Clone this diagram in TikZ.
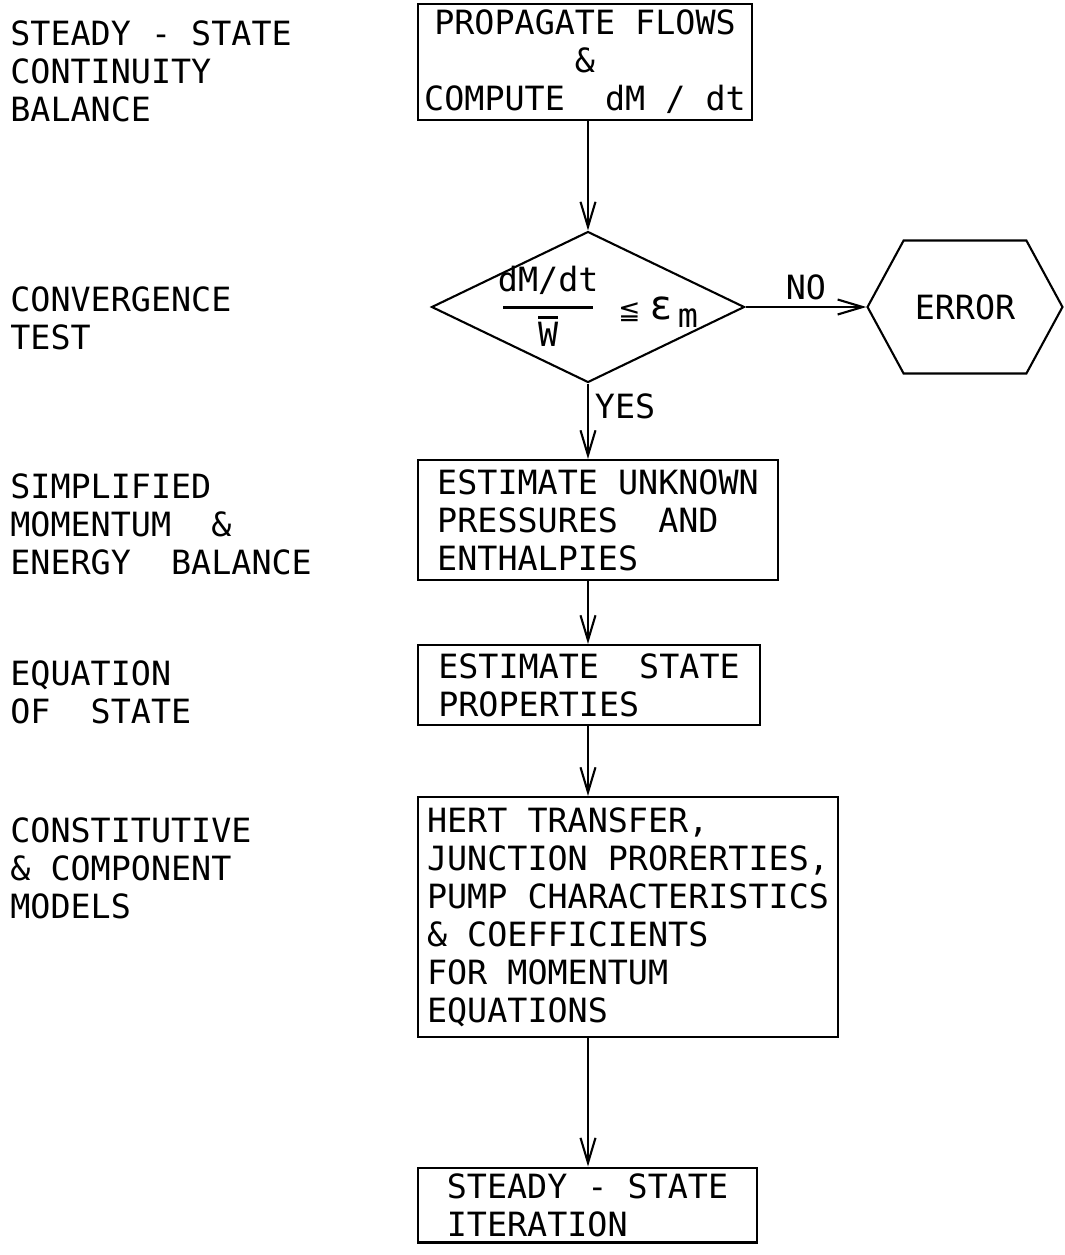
\documentclass[tikz,border=0pt]{standalone}
\usepackage{fontspec}
\setmonofont{DejaVu Sans Mono}
\newfontfamily\symfont{DejaVu Sans}
\usetikzlibrary{arrows.meta,shapes.geometric,shapes.symbols}
\newcommand{\plotfont}{\ttfamily\fontsize{19}{21.6}\selectfont}
\newcommand{\barW}{\setbox0\hbox{\plotfont W}\vbox{\hrule width\wd0 height 1.2pt\kern2pt\box0}}
\newcommand{\topDM}{\setbox0\hbox{\plotfont dM/dt}\box0}
\tikzstyle{block}=[draw, line width=1.2pt, inner xsep=0.1cm, align=left]
\tikzstyle{decision}=[diamond, draw, line width=1.2pt, aspect=2.07, inner sep=0pt,
    minimum width=6.26cm, minimum height=3.02cm]
\tikzstyle{hexa}=[signal, signal to=west and east, signal pointer angle=123, draw,
    line width=1.2pt, minimum width=3.9cm, minimum height=2.66cm]
\tikzstyle{side}=[anchor=north west, inner sep=0pt, align=left]
\tikzstyle{flow}=[line width=1.2pt, -{Straight Barb[length=5mm,width=3mm]}]
\newcommand{\block}{\node[block]}

\begin{document}
\begin{tikzpicture}[x=0.02cm, y=-0.02cm, every node/.style={font=\plotfont}]
\useasboundingbox (0,0) rectangle (1065,1255);
% what each step stands for
\node[side] (l1) at (10,20)  {STEADY - STATE\\CONTINUITY\\BALANCE};
\node[side] (l2) at (10,286) {CONVERGENCE\\TEST};
\node[side] (l3) at (10,473) {SIMPLIFIED\\MOMENTUM~~\&\\ENERGY~~BALANCE};
\node[side] (l4) at (10,660) {EQUATION\\OF~~STATE};
\node[side] (l5) at (10,817) {CONSTITUTIVE\\\& COMPONENT\\MODELS};
% the steps
\block[align=center, minimum width=6.68cm, minimum height=2.32cm] (prop) at (585,62)
    {PROPAGATE FLOWS\\\&\\COMPUTE~~dM / dt};
\node[decision] (test) at (588,307) {};
\node[xshift=0.2cm, yshift=-0.09cm] (cond) at (test.center)
    {\begin{tabular}[c]{@{}c@{}}\topDM\\[-12pt]\rule{1.8cm}{1.6pt}\\[-2pt]\barW\end{tabular}%
     \hspace{0.4cm}{\symfont\fontsize{15}{18}\selectfont ≦}\hspace{0.2cm}{\symfont\fontsize{23}{26}\selectfont ε}\raisebox{-0.25em}{\,m}};
\node[hexa] (err) at (965,307) {ERROR};
\block[minimum width=7.2cm, minimum height=2.4cm] (est) at (598,520)
    {ESTIMATE UNKNOWN\\PRESSURES~~AND\\ENTHALPIES};
\block[minimum width=6.84cm, minimum height=1.6cm] (state) at (589,685)
    {ESTIMATE~~STATE\\PROPERTIES};
\block[minimum width=8.4cm, minimum height=4.8cm] (models) at (628,917)
    {HERT TRANSFER,\\JUNCTION PRORERTIES,\\PUMP CHARACTERISTICS\\\& COEFFICIENTS\\FOR MOMENTUM\\EQUATIONS};
\block[minimum width=6.78cm, minimum height=1.4cm] (iter) at (587.5,1205)
    {STEADY - STATE\\ITERATION};
% connectors
\draw[flow] (prop.south -| test.north) -- (test.north);
\draw[flow] (test.east) -- node[above] {NO} (err.west);
\draw[flow] (test.south) -- node[right, pos=.3] {YES} (est.north -| test.south);
\draw[flow] (est.south -| test.south) -- (state.north -| test.south);
\draw[flow] (state.south -| test.south) -- (models.north -| test.south);
\draw[flow] (models.south -| test.south) -- (iter.north -| test.south);
\end{tikzpicture}
\end{document}
